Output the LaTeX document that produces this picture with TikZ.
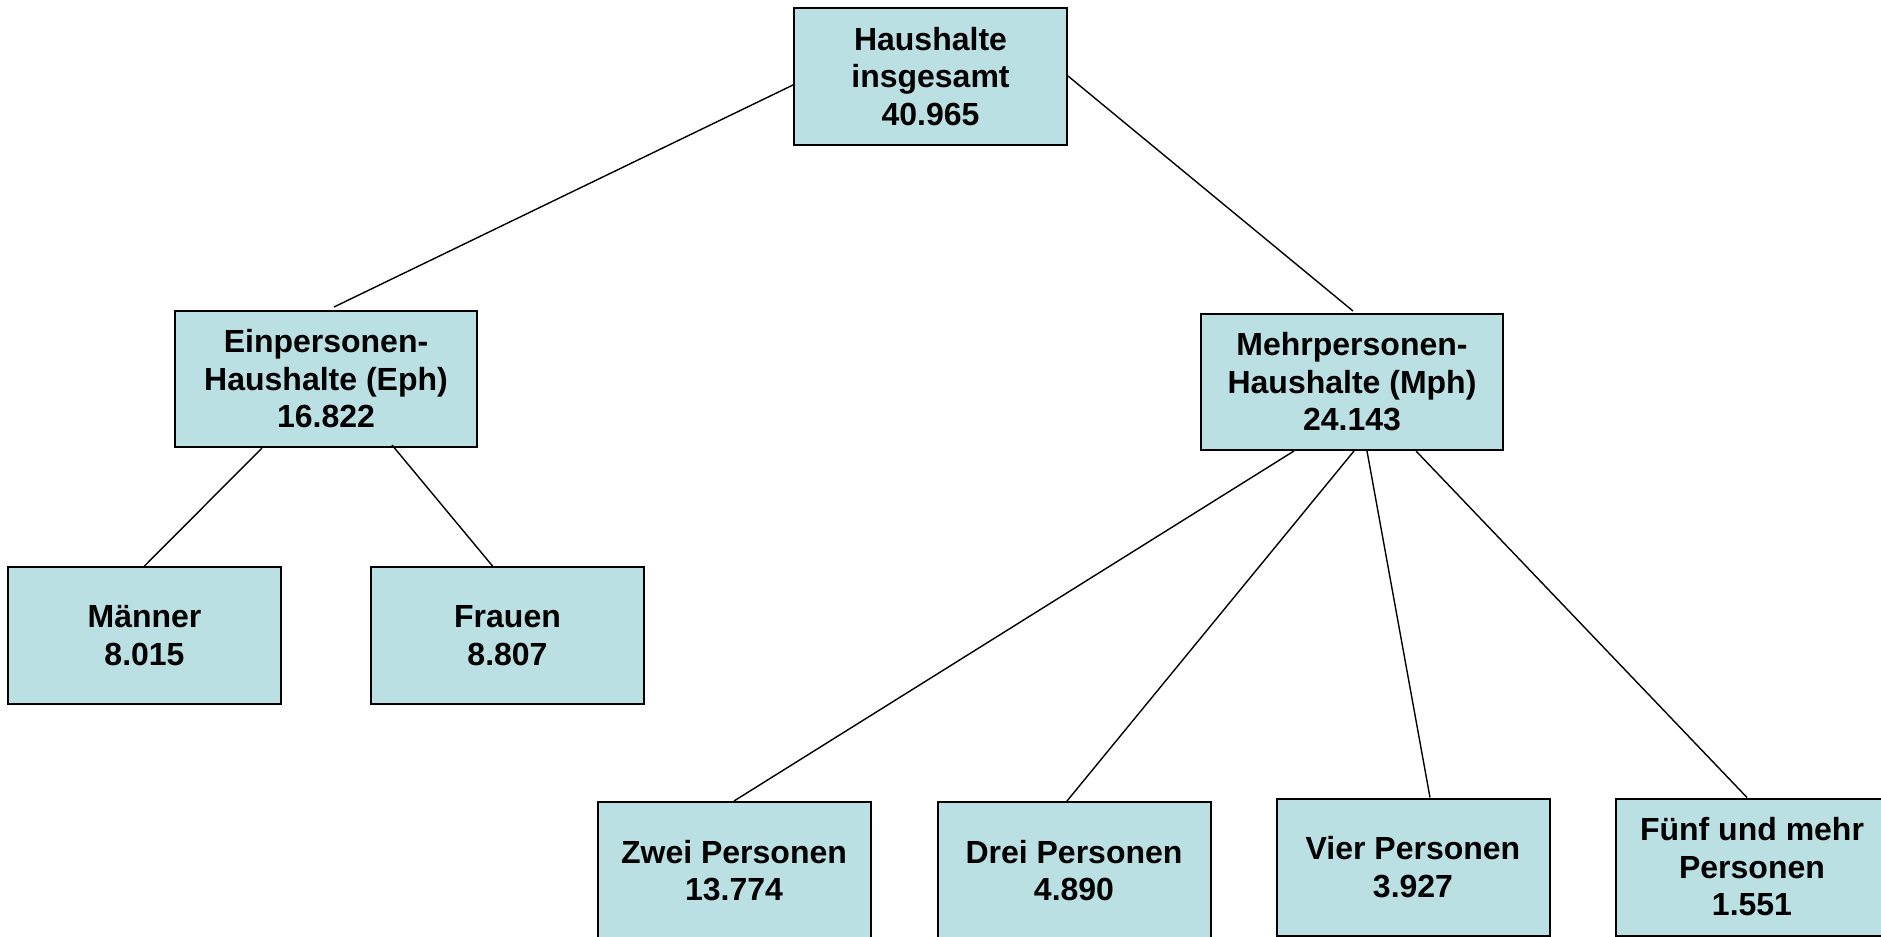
\documentclass[tikz,border=0pt]{standalone}
\usepackage{fontspec}
\setmainfont{Liberation Sans}
\usetikzlibrary{calc}
\definecolor{boxfill}{RGB}{187,224,227}
\begin{document}
\begin{tikzpicture}[x=0.5pt,y=-0.5pt,
  box/.style={draw=black, line width=1pt, fill=boxfill, rectangle, inner sep=0pt,
    minimum width=136.5pt, minimum height=68.5pt, align=center,
    font=\fontsize{16pt}{18.75pt}\selectfont\bfseries},
  widebox/.style={box, minimum width=151pt, minimum height=68pt},
  link/.style={draw=black, line width=0.7pt}]
\clip (0,0) rectangle (1881,937);
\fill[white] (0,0) rectangle (1881,937);
\node[box] (top) at (930.5,76.5) {Haushalte\\insgesamt\\40.965};
\node[widebox] (eph) at (326,379) {Einpersonen-\\Haushalte (Eph)\\16.822};
\node[widebox] (mph) at (1352,382) {Mehrpersonen-\\Haushalte (Mph)\\24.143};
\node[box] (maenner) at (144.5,635.5) {Männer\\8.015};
\node[box] (frauen) at (507.5,635.5) {Frauen\\8.807};
\node[box] (zwei) at (734,870.5) {Zwei Personen\\13.774};
\node[box] (drei) at (1074,870.5) {Drei Personen\\4.890};
\node[box] (vier) at (1413,867) {Vier Personen\\3.927};
\node[box] (fuenf) at (1752,867) {Fünf und mehr\\Personen\\1.551};
\draw[link] ($(top.west)+(0,8.5)$) -- ($(eph.north)+(8,-3)$);
\draw[link] ($(top.east)+(0,-0.5)$) -- ($(mph.north)+(1,-2)$);
\draw[link] ($(eph.south)+(-64,0)$) -- (maenner.north);
\draw[link] ($(eph.south)+(66,-3)$) -- ($(frauen.north)+(-15,0)$);
\draw[link] ($(mph.south)+(-58,0)$) -- (zwei.north);
\draw[link] ($(mph.south)+(2,0)$) -- ($(drei.north)+(-7,0)$);
\draw[link] ($(mph.south)+(15,0)$) -- ($(vier.north)+(17,0)$);
\draw[link] ($(mph.south)+(64,0)$) -- ($(fuenf.north)+(-5,0)$);
\end{tikzpicture}
\end{document}
